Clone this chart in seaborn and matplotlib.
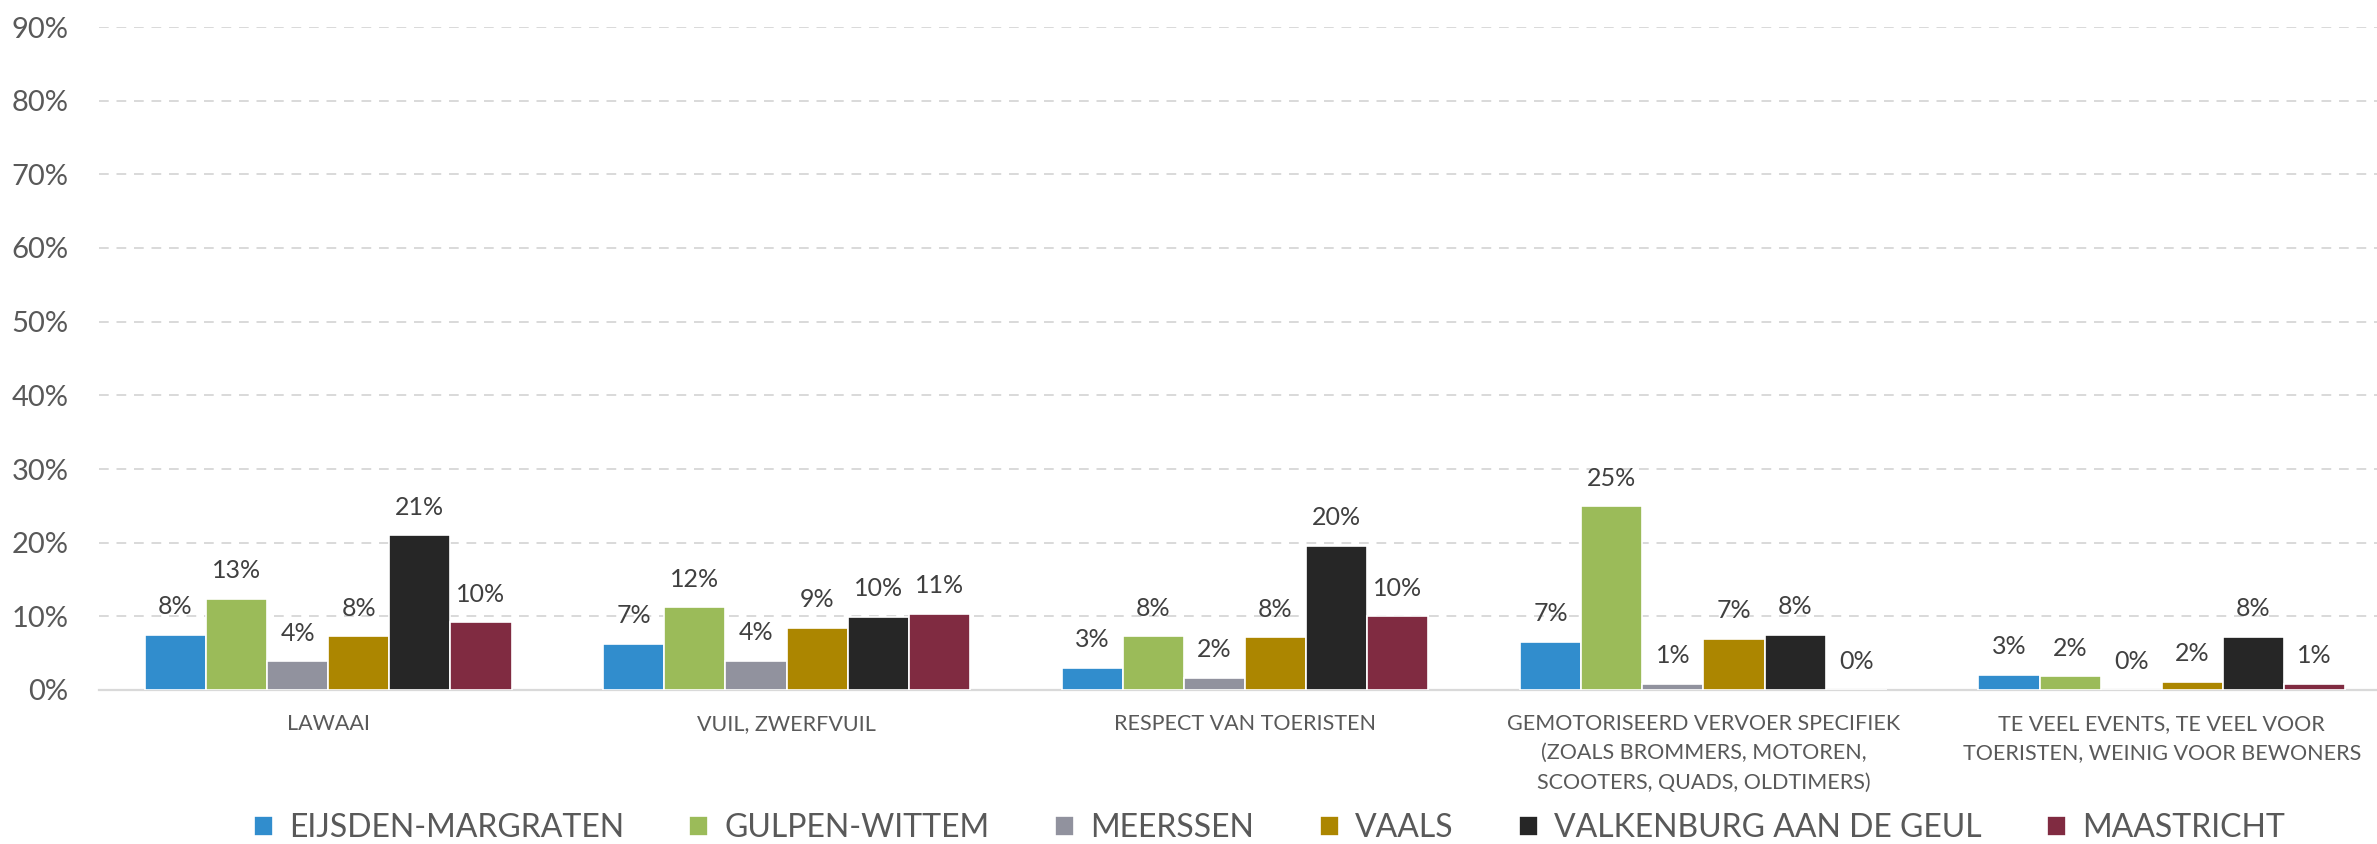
import numpy as np
import pandas as pd
import matplotlib
matplotlib.use("Agg")
import matplotlib.pyplot as plt
import seaborn as sns

categories = [
    "LAWAAI",
    "VUIL, ZWERFVUIL",
    "RESPECT VAN TOERISTEN",
    "GEMOTORISEERD VERVOER SPECIFIEK\n(ZOALS BROMMERS, MOTOREN,\nSCOOTERS, QUADS, OLDTIMERS)",
    "TE VEEL EVENTS, TE VEEL VOOR\nTOERISTEN, WEINIG VOOR BEWONERS",
]
gemeenten = ["EIJSDEN-MARGRATEN", "GULPEN-WITTEM", "MEERSSEN", "VAALS",
             "VALKENBURG AAN DE GEUL", "MAASTRICHT"]
colors = ["#318DCD", "#9BBB59", "#91929E", "#AC8600", "#262626", "#802B41"]

# bar heights (%) per gemeente, one value per category
eijsden = [7.45, 6.3, 3.05, 6.5, 2.1]
gulpen = [12.4, 11.2, 7.3, 24.95, 1.85]
meerssen = [3.9, 4.0, 1.65, 0.8, 0.0]
vaals = [7.3, 8.45, 7.15, 6.95, 1.15]
valkenburg = [21.0, 9.95, 19.6, 7.5, 7.2]
maastricht = [9.2, 10.35, 10.0, 0.0, 0.85]

# data labels as printed in the chart
lbl_eijsden = ["8%", "7%", "3%", "7%", "3%"]
lbl_gulpen = ["13%", "12%", "8%", "25%", "2%"]
lbl_meerssen = ["4%", "4%", "2%", "1%", "0%"]
lbl_vaals = ["8%", "9%", "8%", "7%", "2%"]
lbl_valkenburg = ["21%", "10%", "20%", "8%", "8%"]
lbl_maastricht = ["10%", "11%", "10%", "0%", "1%"]

series = [eijsden, gulpen, meerssen, vaals, valkenburg, maastricht]
labels = [lbl_eijsden, lbl_gulpen, lbl_meerssen, lbl_vaals, lbl_valkenburg, lbl_maastricht]

rows = []
for g, vals in zip(gemeenten, series):
    for c, v in zip(categories, vals):
        rows.append({"categorie": c, "gemeente": g, "waarde": v})
df = pd.DataFrame(rows)

sns.set_style("white")
plt.rcParams["font.family"] = ["Lato", "DejaVu Sans"]
text_col = "#595959"
grid_col = "#D9D9D9"

fig = plt.figure(figsize=(23.77, 8.44), dpi=100)
ax = fig.add_axes([99 / 2377, 154 / 844, 2292 / 2377, 663 / 844])

sns.barplot(data=df, x="categorie", y="waarde", hue="gemeente",
            order=categories, hue_order=gemeenten, palette=colors,
            width=0.8, edgecolor="white", linewidth=1.2, saturation=1,
            ax=ax, legend=True, zorder=3)

for cont, lb in zip(ax.containers, labels):
    ax.bar_label(cont, labels=lb, padding=12, fontsize=18, color="#404040")

ax.set_ylim(0, 90)
ax.set_xlim(-0.5, 4.5)
ax.set_yticks(np.arange(0, 91, 10))
ax.set_yticklabels([f"{int(t)}%" for t in np.arange(0, 91, 10)])
ax.yaxis.grid(True, linestyle=(0, (5, 4)), color=grid_col, linewidth=1.4, zorder=0)
ax.set_axisbelow(True)
ax.tick_params(axis="y", length=0, pad=22, labelsize=21, labelcolor=text_col)

ax.set_xticks(range(len(categories)))
ax.set_xticklabels(categories, linespacing=1.6)
ax.tick_params(axis="x", length=0, pad=17, labelsize=15.5, labelcolor=text_col)
ax.set_xticks(np.arange(-0.5, 5, 1), minor=True)
ax.tick_params(axis="x", which="minor", length=8, width=1.4, color=grid_col)

ax.set_xlabel("")
ax.set_ylabel("")
for s in ["top", "right", "left"]:
    ax.spines[s].set_visible(False)
ax.spines["bottom"].set_color(grid_col)
ax.spines["bottom"].set_linewidth(1.6)

handles, hl = ax.get_legend_handles_labels()
ax.legend_.remove()
fig.legend(handles, hl, loc="center", bbox_to_anchor=(0.534, 0.019), ncol=6,
           frameon=False, fontsize=23, labelcolor=text_col,
           handlelength=0.6, handleheight=0.6, handletextpad=0.5,
           columnspacing=2.05)

fig.savefig("out.png", dpi=100)
